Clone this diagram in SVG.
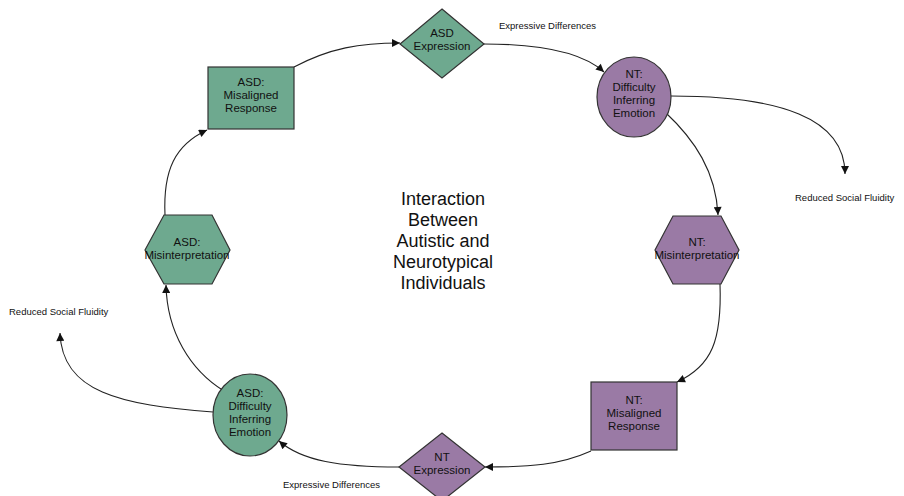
<svg xmlns="http://www.w3.org/2000/svg" width="904" height="496" viewBox="0 0 904 496">
<defs>
<marker id="arr" viewBox="0 0 10 10" refX="10" refY="5" markerWidth="9" markerHeight="8" markerUnits="userSpaceOnUse" orient="auto">
<path d="M0,0 L10,5 L0,10 z" fill="#111"/>
</marker>
<style>
.g{fill:#6ea98f;stroke:#333;stroke-width:1.2}
.p{fill:#9a7aa5;stroke:#333;stroke-width:1.2}
.t{font-family:"Liberation Sans",Arial,sans-serif;font-size:11.5px;fill:#111;text-anchor:middle}
.l{font-family:"Liberation Sans",Arial,sans-serif;font-size:9.5px;fill:#111}
.c{fill:none;stroke:#222;stroke-width:1.1;marker-end:url(#arr)}
.big{font-family:"Liberation Sans",Arial,sans-serif;font-size:18px;fill:#111;text-anchor:middle}
</style>
</defs>
<rect width="904" height="496" fill="#fff"/>
<g id="connectors">
<path class="c" d="M294,67 C330,48 360,43 400,43"/>
<path class="c" d="M484,44 C540,44 582,52 604,72"/>
<path class="c" d="M671,96 C780,96 845,118 845,174"/>
<path class="c" d="M665,112 C695,140 716,172 718,215"/>
<path class="c" d="M720,284 C722,340 712,366 677,382"/>
<path class="c" d="M591,451 C560,465 530,467 485,467"/>
<path class="c" d="M399,467 C340,467 302,461 279,441"/>
<path class="c" d="M213,412 C120,405 62,392 60,333"/>
<path class="c" d="M224,391 C190,370 167,332 166,285"/>
<path class="c" d="M165,215 C163,170 175,145 207,130"/>
</g>
<g id="label-expr-top"><text class="l" x="499" y="29">Expressive Differences</text></g>
<g id="label-rsf-right"><text class="l" x="795" y="201">Reduced Social Fluidity</text></g>
<g id="label-expr-bottom"><text class="l" x="283" y="488">Expressive Differences</text></g>
<g id="label-rsf-left"><text class="l" x="9" y="315">Reduced Social Fluidity</text></g>
<g id="asd-expression">
<polygon class="g" points="442,9 484,44 442,78 400,44"/>
<text class="t" x="442" y="37">ASD</text>
<text class="t" x="442" y="50">Expression</text>
</g>
<g id="nt-difficulty">
<ellipse class="p" cx="634" cy="97" rx="37" ry="40"/>
<text class="t" x="634" y="78">NT:</text>
<text class="t" x="634" y="91">Difficulty</text>
<text class="t" x="634" y="104">Inferring</text>
<text class="t" x="634" y="117">Emotion</text>
</g>
<g id="nt-misinterpretation">
<polygon class="p" points="655,250 673,216 721,216 739,250 721,284 673,284"/>
<text class="t" x="697" y="246">NT:</text>
<text class="t" x="697" y="259">Misinterpretation</text>
</g>
<g id="nt-misaligned">
<rect class="p" x="591" y="382" width="86" height="68"/>
<text class="t" x="634" y="404">NT:</text>
<text class="t" x="634" y="417">Misaligned</text>
<text class="t" x="634" y="430">Response</text>
</g>
<g id="nt-expression">
<polygon class="p" points="442,433 485,467 442,501 399,467"/>
<text class="t" x="442" y="461">NT</text>
<text class="t" x="442" y="474">Expression</text>
</g>
<g id="asd-difficulty">
<ellipse class="g" cx="250" cy="415" rx="37" ry="41"/>
<text class="t" x="250" y="397">ASD:</text>
<text class="t" x="250" y="410">Difficulty</text>
<text class="t" x="250" y="423">Inferring</text>
<text class="t" x="250" y="436">Emotion</text>
</g>
<g id="asd-misinterpretation">
<polygon class="g" points="145,250 164,215 212,215 230,250 212,284 164,284"/>
<text class="t" x="187" y="246">ASD:</text>
<text class="t" x="187" y="259">Misinterpretation</text>
</g>
<g id="asd-misaligned">
<rect class="g" x="208" y="67" width="86" height="62"/>
<text class="t" x="251" y="86">ASD:</text>
<text class="t" x="251" y="99">Misaligned</text>
<text class="t" x="251" y="112">Response</text>
</g>
<g id="title">
<text class="big" x="443" y="205">Interaction</text>
<text class="big" x="443" y="226">Between</text>
<text class="big" x="443" y="247">Autistic and</text>
<text class="big" x="443" y="268">Neurotypical</text>
<text class="big" x="443" y="289">Individuals</text>
</g>
</svg>
